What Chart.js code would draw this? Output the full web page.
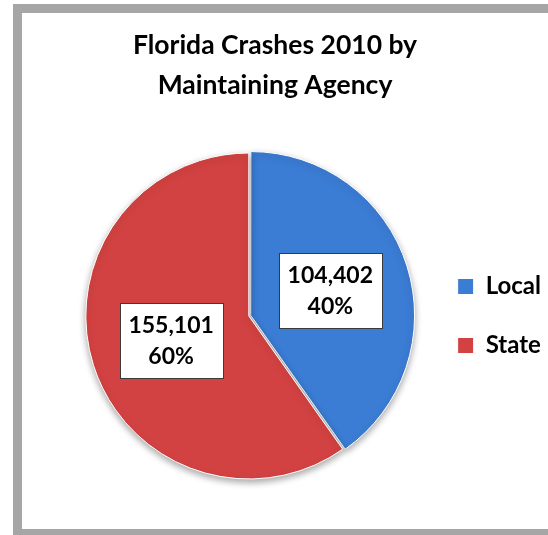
<!DOCTYPE html>
<html>
<head>
<meta charset="utf-8">
<script src="https://cdn.jsdelivr.net/npm/chart.js@4.4.1/dist/chart.umd.min.js"></script>
<style>
  html, body { margin: 0; padding: 0; background: #fff; overflow: hidden; }
  .frame { position: absolute; left: 13px; top: 4px; width: 600px; height: 534px; border: 9px solid #a6a6a6; box-sizing: border-box; }
  .wrap { position: absolute; left: 0; top: 0; width: 548px; height: 535px; }
</style>
</head>
<body>
<div class="frame"></div>
<div class="wrap"><canvas id="chart"></canvas></div>
<script>
const titleLines = ['Florida Crashes 2010 by', 'Maintaining Agency'];
const agencies = ['Local', 'State'];
const crashes = [104402, 155101];

Chart.defaults.font.family = 'Lato';
Chart.defaults.color = '#000';

// title is centred on the whole frame, not on the pie + legend area
const titleSpan = {
    id: 'titleSpan',
    afterLayout(chart) {
        chart.titleBlock.left = 0;
        chart.titleBlock.right = chart.width + 2;
    }
};

// soft drop shadow under the pie
const pieShadow = {
    id: 'pieShadow',
    beforeDatasetsDraw(chart) {
        const ctx = chart.ctx;
        ctx.save();
        ctx.shadowColor = 'rgba(0, 0, 0, 0.35)';
        ctx.shadowBlur = 7;
        ctx.shadowOffsetY = 3;
    },
    afterDatasetsDraw(chart) {
        chart.ctx.restore();
    }
};

// white boxes with value + percent in the middle of each slice
const valueLabels = {
    id: 'valueLabels',
    afterDatasetsDraw(chart) {
        const ctx = chart.ctx;
        const meta = chart.getDatasetMeta(0);
        const data = chart.data.datasets[0].data;
        const total = data.reduce((a, b) => a + b, 0);
        ctx.save();
        ctx.font = 'bold 23px Lato';
        ctx.textAlign = 'center';
        ctx.textBaseline = 'middle';
        meta.data.forEach((arc, i) => {
            const { x, y } = arc.getCenterPoint();
            const lines = [data[i].toLocaleString('en-US'), Math.round(data[i] / total * 100) + '%'];
            const w = Math.round(Math.max(...lines.map(l => ctx.measureText(l).width)) + 18);
            const h = 75;
            const left = Math.round(x - w / 2);
            const top = Math.round(y - h / 2);
            ctx.fillStyle = '#fff';
            ctx.fillRect(left, top, w, h);
            ctx.strokeStyle = '#3a3a3a';
            ctx.lineWidth = 1;
            ctx.strokeRect(left + 0.5, top + 0.5, w, h);
            ctx.fillStyle = '#000';
            ctx.fillText(lines[0], x, y - 15);
            ctx.fillText(lines[1], x, y + 16);
        });
        ctx.restore();
    }
};

const ctx = document.getElementById('chart').getContext('2d');
const chart = new Chart(ctx, {
    type: 'pie',
    data: {
        labels: agencies,
        datasets: [{
            data: crashes,
            backgroundColor: ['#3b7cd4', '#d34242'],
            borderColor: '#fff',
            borderWidth: 1,
            offset: [8, 0],
            radius: 163
        }]
    },
    plugins: [titleSpan, pieShadow, valueLabels],
    options: {
        responsive: true,
        maintainAspectRatio: false,
        animation: false,
        layout: {
            padding: { left: 75, right: -3, top: 0, bottom: 8 }
        },
        plugins: {
            title: {
                display: true,
                text: titleLines,
                color: '#000',
                font: { size: 26.5, weight: 'bold', lineHeight: '40px' },
                padding: { top: 25, bottom: 0 }
            },
            legend: {
                position: 'right',
                fullSize: false,
                labels: {
                    boxWidth: 16,
                    boxHeight: 16,
                    padding: 35,
                    color: '#000',
                    font: { size: 24, weight: 'bold' }
                }
            },
            tooltip: { enabled: false }
        }
    }
});
</script>
</body>
</html>
